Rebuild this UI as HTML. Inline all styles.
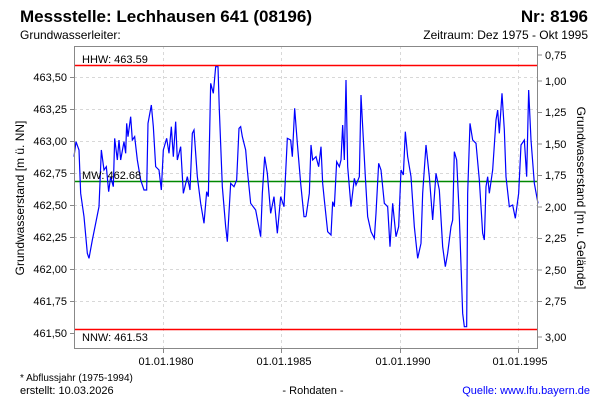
<!DOCTYPE html>
<html><head><meta charset="utf-8"><style>
body{margin:0;background:#fff;}
svg{font-family:"Liberation Sans",Arial,sans-serif;}
</style></head><body>
<svg width="600" height="400" xmlns="http://www.w3.org/2000/svg">
<rect width="600" height="400" fill="#fff"/>
<text x="20" y="22" font-size="17" font-weight="bold">Messstelle: Lechhausen 641 (08196)</text>
<text x="588" y="22" font-size="17" font-weight="bold" text-anchor="end">Nr: 8196</text>
<text x="20" y="39" font-size="12">Grundwasserleiter:</text>
<text x="588" y="39" font-size="12" text-anchor="end">Zeitraum: Dez 1975 - Okt 1995</text>
<g stroke="#d8d8d8" stroke-dasharray="3,3" stroke-width="1">
<line x1="74" x2="538" y1="77.5" y2="77.5"/><line x1="74" x2="538" y1="109.5" y2="109.5"/>
<line x1="74" x2="538" y1="141.5" y2="141.5"/><line x1="74" x2="538" y1="173.5" y2="173.5"/>
<line x1="74" x2="538" y1="205.5" y2="205.5"/><line x1="74" x2="538" y1="237.5" y2="237.5"/>
<line x1="74" x2="538" y1="269.5" y2="269.5"/><line x1="74" x2="538" y1="301.5" y2="301.5"/>
<line x1="163.5" x2="163.5" y1="46" y2="349"/><line x1="281.5" x2="281.5" y1="46" y2="349"/>
<line x1="400.5" x2="400.5" y1="46" y2="349"/><line x1="518.5" x2="518.5" y1="46" y2="349"/>
</g>
<line x1="74" x2="538" y1="65.5" y2="65.5" stroke="#f00" stroke-width="1.5"/>
<line x1="74" x2="538" y1="329.5" y2="329.5" stroke="#f00" stroke-width="1.5"/>
<line x1="74" x2="538" y1="181.5" y2="181.5" stroke="#080" stroke-width="1.5"/>
<g fill="none" stroke="#00f" stroke-width="1.2">
<polyline vector-effect="non-scaling-stroke" transform="translate(74,60) scale(0.33333)" points="0,290 6,245 15,270 20,400 30,470 40,580 45,595 55,540 65,490 75,440 82,270 90,330 97,320 104,395 110,350 118,380 122,235 130,300 135,240 140,300 150,245 155,280 158,190 162,230 170,170 175,240 182,230 190,300 200,360 210,390 218,390 222,190 232,135 238,200 245,320 255,330 262,390 268,270 278,235 285,280 292,200 298,290 305,185 310,300 320,260 328,400 340,350 348,390 355,220 360,210 370,350 380,430 390,490 398,395 403,410 410,70 418,100 425,20 432,20 436,150 445,380 455,500 460,545 470,370 480,380 488,360 495,205 500,200 505,230 515,270 520,330 530,430 545,450 560,530 565,400 572,290 580,340 590,460 600,410 610,520 620,410 630,440 640,235 650,240 655,290 662,145 670,250 680,370 690,470 696,470"/>
<polyline vector-effect="non-scaling-stroke" transform="translate(306,60) scale(0.33333)" points="0,470 10,400 15,255 20,300 30,290 38,320 45,260 50,370 55,420 65,515 75,525 80,425 85,440 92,305 100,320 105,300 110,195 115,300 120,60 125,320 135,440 145,355 150,375 160,350 165,105 170,200 178,350 185,470 195,515 205,535 210,460 218,310 225,330 235,430 245,440 252,560 260,430 270,530 278,500 285,330 292,345 298,215 305,290 315,350 325,500 335,595 345,550 350,400 360,255 370,350 380,480 390,340 400,390 410,560 418,620 425,580 435,500 440,480 445,275 452,300 460,470 470,760 475,800 482,800 485,400 492,190 500,240 510,250 520,360 530,520 535,540 540,380 545,350 550,400 560,330 570,180 575,150 580,220 588,100 595,210 600,350 610,440 620,435 628,475 638,400 645,255 655,240 662,350 668,90 675,240 685,370 696,430"/>
</g>
<text x="82" y="63" font-size="11">HHW: 463.59</text>
<text x="82" y="179" font-size="11">MW: 462.68</text>
<text x="82" y="341" font-size="11">NNW: 461.53</text>
<rect x="74.5" y="46.5" width="463" height="302" fill="none" stroke="#888"/>
<g stroke="#888">
<line x1="70" x2="74" y1="77.5" y2="77.5"/><line x1="70" x2="74" y1="109.5" y2="109.5"/><line x1="70" x2="74" y1="141.5" y2="141.5"/><line x1="70" x2="74" y1="173.5" y2="173.5"/><line x1="70" x2="74" y1="205.5" y2="205.5"/><line x1="70" x2="74" y1="237.5" y2="237.5"/><line x1="70" x2="74" y1="269.5" y2="269.5"/><line x1="70" x2="74" y1="301.5" y2="301.5"/><line x1="70" x2="74" y1="333.5" y2="333.5"/>
<line x1="163.5" x2="163.5" y1="349" y2="353"/><line x1="281.5" x2="281.5" y1="349" y2="353"/><line x1="400.5" x2="400.5" y1="349" y2="353"/><line x1="518.5" x2="518.5" y1="349" y2="353"/>
<line x1="538" x2="542" y1="55" y2="55"/><line x1="538" x2="542" y1="81" y2="81"/><line x1="538" x2="542" y1="112.5" y2="112.5"/><line x1="538" x2="542" y1="144" y2="144"/><line x1="538" x2="542" y1="175.5" y2="175.5"/><line x1="538" x2="542" y1="207" y2="207"/><line x1="538" x2="542" y1="238.5" y2="238.5"/><line x1="538" x2="542" y1="270" y2="270"/><line x1="538" x2="542" y1="301.5" y2="301.5"/><line x1="538" x2="542" y1="337" y2="337"/>
</g>
<g font-size="11" text-anchor="end">
<text x="67" y="81">463,50</text><text x="67" y="113">463,25</text><text x="67" y="145">463,00</text><text x="67" y="177">462,75</text><text x="67" y="209">462,50</text><text x="67" y="241">462,25</text><text x="67" y="273">462,00</text><text x="67" y="305">461,75</text><text x="67" y="337">461,50</text>
</g>
<g font-size="11">
<text x="545" y="59">0,75</text><text x="545" y="85">1,00</text><text x="545" y="116">1,25</text><text x="545" y="148">1,50</text><text x="545" y="179">1,75</text><text x="545" y="211">2,00</text><text x="545" y="242">2,25</text><text x="545" y="274">2,50</text><text x="545" y="305">2,75</text><text x="545" y="341">3,00</text>
</g>
<g font-size="11" text-anchor="middle">
<text x="166" y="365">01.01.1980</text><text x="284" y="365">01.01.1985</text><text x="403" y="365">01.01.1990</text><text x="520" y="365">01.01.1995</text>
</g>
<text transform="translate(24,198) rotate(-90)" font-size="12" text-anchor="middle">Grundwasserstand [m ü. NN]</text>
<text transform="translate(577,198) rotate(90)" font-size="12" text-anchor="middle">Grundwasserstand [m u. Gelände]</text>
<text x="20" y="381" font-size="10">* Abflussjahr (1975-1994)</text>
<text x="20" y="394" font-size="11">erstellt:  10.03.2026</text>
<text x="313" y="394" font-size="11" text-anchor="middle">- Rohdaten -</text>
<text x="590" y="394" font-size="11" text-anchor="end" fill="#00f">Quelle: www.lfu.bayern.de</text>
</svg>
</body></html>
